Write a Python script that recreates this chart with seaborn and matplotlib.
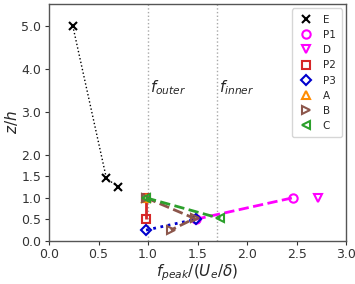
import matplotlib
matplotlib.use("Agg")
import matplotlib.pyplot as plt
import seaborn as sns
from matplotlib.lines import Line2D

sns.set_style("white")
plt.rcParams['font.family'] = ['DejaVu Sans']

labels = ["E", "P1", "D", "P2", "P3", "A", "B", "C"]
E_x = [0.24, 0.58, 0.70]
E_y = [5.0, 1.45, 1.25]
P1_x = [1.48, 2.46]
P1_y = [0.50, 1.0]
D_x = [2.72]
D_y = [1.0]
P2_x = [0.98, 0.98]
P2_y = [0.50, 1.0]
P3_x = [0.98, 1.48]
P3_y = [0.25, 0.50]
A_x = [0.98]
A_y = [1.0]
B_x = [0.98, 1.47, 1.23]
B_y = [1.0, 0.52, 0.25]
C_x = [0.98, 1.73]
C_y = [1.0, 0.52]
f_outer = 1.0
f_inner = 1.7

series = [
    (E_x, E_y, "black", "x", ":", 1.0),
    (P1_x, P1_y, "magenta", "o", "--", 2.0),
    (D_x, D_y, "magenta", "v", "", 2.0),
    (P2_x, P2_y, "tab:red", "s", "-.", 2.0),
    (P3_x, P3_y, "mediumblue", "D", ":", 2.0),
    (A_x, A_y, "darkorange", "^", "", 2.0),
    (B_x, B_y, "tab:brown", ">", "--", 2.0),
    (C_x, C_y, "tab:green", "<", "--", 2.0),
]

fig, ax = plt.subplots(figsize=(3.55, 2.84), dpi=100)
fig.subplots_adjust(left=0.138, right=0.975, top=0.985, bottom=0.152)

ax.axvline(f_outer, color="darkgray", linestyle=":", linewidth=1.0, zorder=0)
ax.axvline(f_inner, color="darkgray", linestyle=":", linewidth=1.0, zorder=0)

handles = []
for (xs, ys, c, m, ls, lw), lab in zip(series, labels):
    msz = 5 if m == "D" else 6
    if ls:
        sns.lineplot(x=xs, y=ys, sort=False, estimator=None, ax=ax, color=c,
                     linestyle=ls, linewidth=lw, legend=False)
    sns.lineplot(x=xs, y=ys, sort=False, estimator=None, ax=ax, color=c,
                 linestyle="", marker=m, markersize=msz, markerfacecolor="none",
                 markeredgecolor=c, markeredgewidth=1.5, legend=False)
    handles.append(Line2D([], [], linestyle="", marker=m, color=c, markersize=msz,
                          markerfacecolor="none", markeredgecolor=c,
                          markeredgewidth=1.5, label=lab))

ax.text(1.02, 3.55, r"$f_{outer}$", fontsize=11, va="center", ha="left")
ax.text(1.72, 3.55, r"$f_{inner}$", fontsize=11, va="center", ha="left")

ax.set_xlim(0, 3.0)
ax.set_ylim(0, 5.5)
ax.set_xticks([0, 0.5, 1.0, 1.5, 2.0, 2.5, 3.0])
ax.set_xticklabels(["0.0", "0.5", "1.0", "1.5", "2.0", "2.5", "3.0"])
ax.set_yticks([0, 0.5, 1.0, 1.5, 2.0, 3.0, 4.0, 5.0])
ax.set_yticklabels(["0.0", "0.5", "1.0", "1.5", "2.0", "3.0", "4.0", "5.0"])
ax.tick_params(axis="both", labelsize=9, length=3, width=0.8, colors="#333333",
               direction="out", bottom=True, left=True, pad=2.5)
for s in ax.spines.values():
    s.set_color("#555555")
    s.set_linewidth(1.0)

ax.set_xlabel(r"$f_{peak}/(U_e/\delta)$", fontsize=11, labelpad=1)
ax.set_ylabel(r"$z/h$", fontsize=11, labelpad=1)

ax.legend(handles=handles, loc="upper right", fontsize=7.5, frameon=True,
          handletextpad=0.9, labelspacing=0.5, borderpad=0.6,
          handlelength=1.5, borderaxespad=0.4)

fig.savefig("out.png", dpi=100)
